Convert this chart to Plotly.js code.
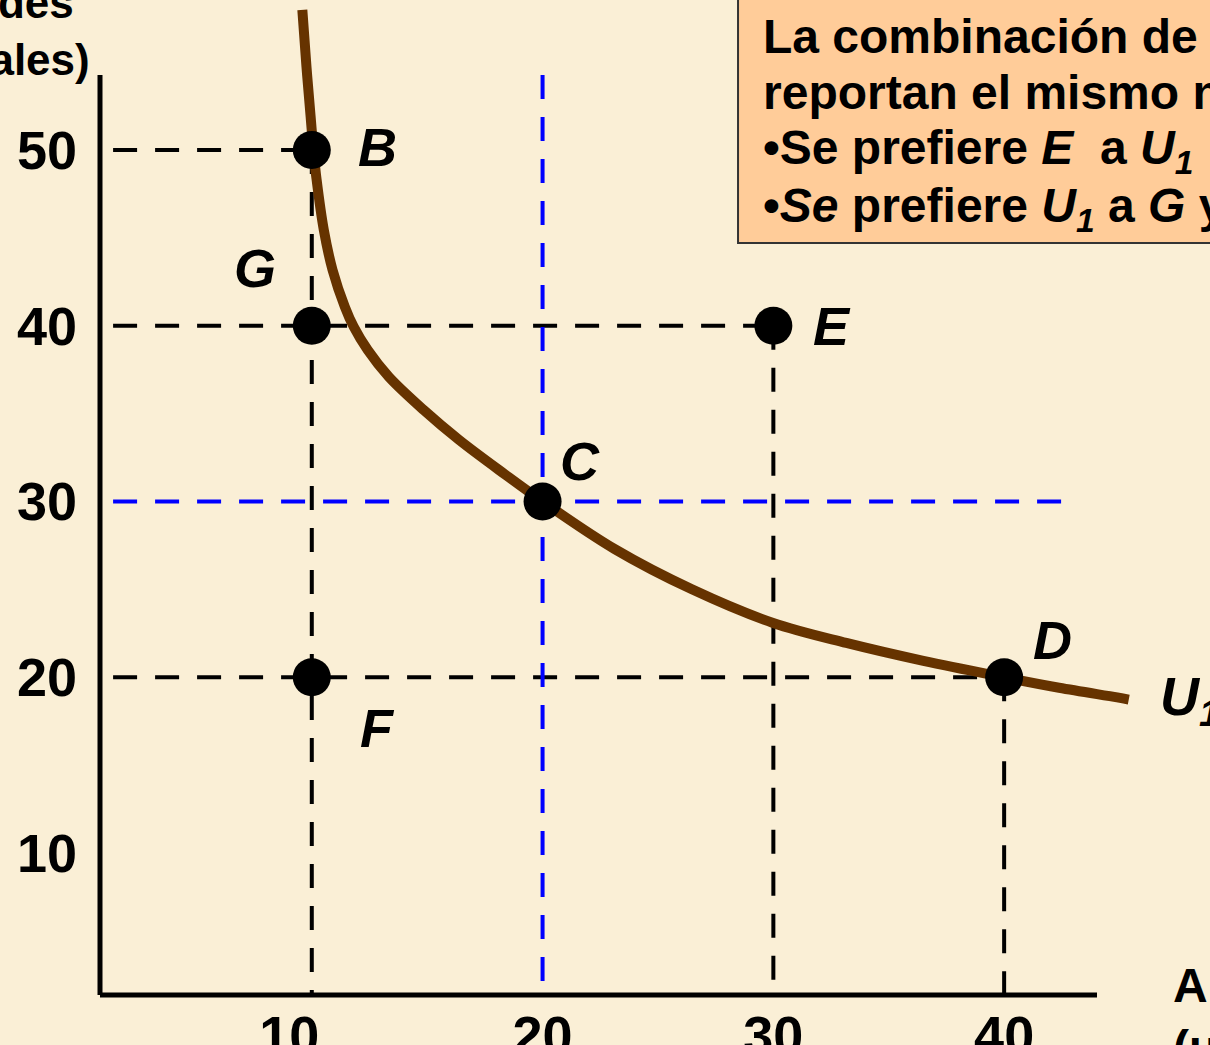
<!DOCTYPE html>
<html>
<head>
<meta charset="utf-8">
<script src="https://cdn.plot.ly/plotly-3.0.1.min.js"></script>
<style>
  body { margin: 0; background: #FAEFD6; }
  #chart { width: 1210px; height: 1045px; }
</style>
</head>
<body>
<div id="chart"></div>
<script>
// combination points
var pointNames = ["B", "G", "E", "C", "F", "D"];
var pointX = [10, 10, 30, 20, 10, 40];
var pointY = [50, 40, 40, 30, 20, 20];

// indifference curve U1
var curveX = [9.59, 9.77, 9.95, 10.07, 10.21, 10.52, 10.9, 11.43, 11.81, 12.42, 13.33, 14.85, 16.38, 18.36, 20,
              23.11, 26.47, 29.96, 33.16, 36.5, 40, 42.38, 44.9, 45.4];
var curveY = [57.97, 54.72, 51.88, 50, 48.29, 45.45, 43.17, 41.08, 39.95, 38.62, 37.1, 35.2, 33.5, 31.55, 30,
              27.3, 25.0, 23.1, 21.95, 20.93, 20, 19.4, 18.85, 18.73];

// black guide lines: horizontal to the point, then down to the axis
var guideLevelsY = [50, 40, 20];
var guideEndsX = [10, 30, 40];
var guideStart = 1.39;   // where the dashes begin next to the vertical axis
var guideBottom = 1.18;  // dashes run just below the horizontal axis

// blue guides through C
var blueX = 20, blueTop = 54.27;
var blueY = 30, blueRight = 42.85;

var tickVals = [10, 20, 30, 40, 50];

// text box lines
var boxLines = [
    "<b>La combinación de mercado B, C y D</b>",
    "<b>reportan el mismo nivel de satisfacción</b>",
    "<b>•Se prefiere <i>E</i>  a <i>U<sub>1</sub></i></b>",
    "<b>•<i>Se</i> prefiere <i>U<sub>1</sub></i> a <i>G</i> y <i>F</i></b>"
];
var boxLineTops = [0.992, 0.9357, 0.8804, 0.8226];

var traces = [];
var dashBlack = {color: "#000000", width: 4, dash: "24px,18px"};
var dashBlue = {color: "#0000FF", width: 4, dash: "24px,18px"};

for (var i = 0; i < guideLevelsY.length; i++) {
    traces.push({x: [guideStart, guideEndsX[i]], y: [guideLevelsY[i], guideLevelsY[i]],
        mode: "lines", line: dashBlack, hoverinfo: "skip"});
    traces.push({x: [guideEndsX[i], guideEndsX[i]], y: [guideLevelsY[i], guideBottom],
        mode: "lines", line: dashBlack, hoverinfo: "skip"});
}
traces.push({x: [blueX, blueX], y: [blueTop, guideBottom], mode: "lines", line: dashBlue, hoverinfo: "skip"});
traces.push({x: [guideStart, blueRight], y: [blueY, blueY], mode: "lines", line: dashBlue, hoverinfo: "skip"});

traces.push({
    x: curveX, y: curveY, mode: "lines",
    line: {color: "#663300", width: 10, shape: "spline", smoothing: 1},
    hoverinfo: "skip"
});

traces.push({
    x: pointX, y: pointY, mode: "markers",
    marker: {color: "#000000", size: 38},
    hoverinfo: "skip", cliponaxis: false
});

// label offsets (px) around each point
var labelShift = {
    B: [66, 3], G: [-57, 58], E: [59, 0], C: [37, 40], F: [66, -51], D: [48, 37]
};

var bigFont = {family: "Liberation Sans, Arial, sans-serif", size: 54, color: "#000000"};
var textFont = {family: "Liberation Sans, Arial, sans-serif", size: 44, color: "#000000"};
var boxFont = {family: "Liberation Sans, Arial, sans-serif", size: 48, color: "#000000"};

var annotations = pointNames.map(function (name, k) {
    return {
        x: pointX[k], y: pointY[k], xref: "x", yref: "y",
        text: "<b><i>" + name + "</i></b>", showarrow: false,
        xshift: labelShift[name][0], yshift: labelShift[name][1],
        font: bigFont
    };
});

annotations.push({
    x: 46.66, y: 18.7, xref: "x", yref: "y", xanchor: "left",
    text: "<b><i>U<sub>1</sub></i></b>", showarrow: false, font: bigFont
});

// axis titles, both mostly cut off by the picture edge
annotations.push({
    x: -0.117, y: 0.914, xref: "paper", yref: "paper", xanchor: "center", yanchor: "bottom",
    text: "<b>Vestido<br>(unidades<br>semanales)</b>", align: "center", showarrow: false, font: textFont
});
annotations.push({
    x: 0.9645, y: 0.038, xref: "paper", yref: "paper", xanchor: "left", yanchor: "top",
    text: "<b>Alimentos<br>(unidades<br>semanales)</b>", align: "left", showarrow: false,
    font: {family: "Liberation Sans, Arial, sans-serif", size: 48, color: "#000000"}
});

// text box, one annotation per line to keep the tight line spacing
boxLines.forEach(function (line, k) {
    annotations.push({
        x: 0.5955, y: boxLineTops[k], xref: "paper", yref: "paper", xanchor: "left", yanchor: "top",
        align: "left", showarrow: false, font: boxFont, text: line
    });
});

var layout = {
    width: 1210, height: 1045,
    margin: {l: 100, r: 0, t: 0, b: 50},
    paper_bgcolor: "#FAEFD6",
    plot_bgcolor: "rgba(0,0,0,0)",
    showlegend: false,
    hovermode: false,
    xaxis: {
        range: [0.823, 48.92], tickvals: tickVals.slice(0, 4),
        ticktext: ["10\u00a0\u00a0\u00a0", "20", "30", "40"],
        showgrid: false, zeroline: false, showline: false, ticks: "",
        ticklabelstandoff: 4,
        tickfont: {family: "Liberation Sans, Arial, sans-serif", size: 54, weight: "bold", color: "#000000"}
    },
    yaxis: {
        range: [1.92, 58.53], tickvals: tickVals,
        showgrid: false, zeroline: false, showline: false, ticks: "",
        ticklabelstandoff: 22,
        tickfont: {family: "Liberation Sans, Arial, sans-serif", size: 54, weight: "bold", color: "#000000"}
    },
    shapes: [
        {type: "line", xref: "paper", yref: "paper", x0: 0, x1: 0, y0: 0, y1: 0.9246,
            line: {color: "#000000", width: 5}},
        {type: "line", xref: "paper", yref: "paper", x0: 0, x1: 0.8982, y0: 0, y1: 0,
            line: {color: "#000000", width: 5}},
        {type: "rect", xref: "paper", yref: "paper", x0: 0.5748, x1: 1.2, y0: 0.7558, y1: 1.1,
            fillcolor: "#FFCC99", line: {color: "#333333", width: 2}, layer: "below"}
    ],
    annotations: annotations
};

Plotly.newPlot("chart", traces, layout, {staticPlot: true});
</script>
</body>
</html>
